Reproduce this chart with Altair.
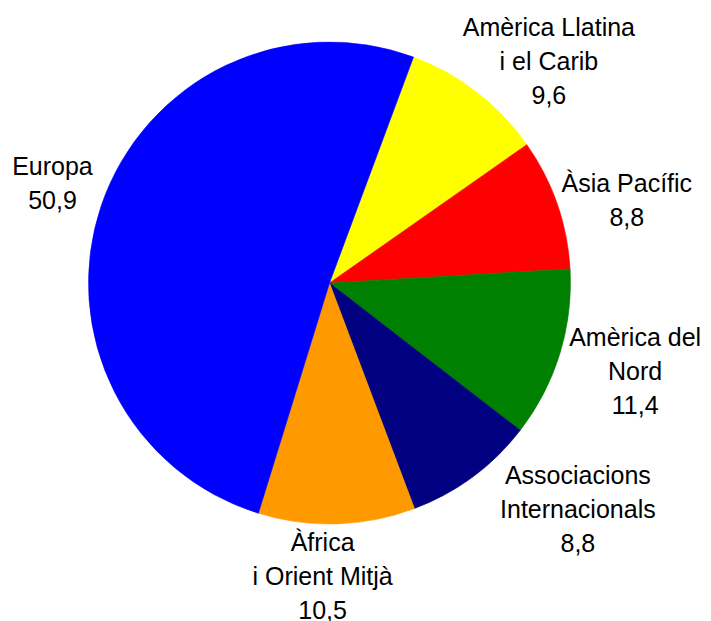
import math
import altair as alt
import pandas as pd

# ---- data (clockwise from the first slice) ----
names = [
    "Amèrica Llatina\ni el Carib",
    "Àsia Pacífic",
    "Amèrica del\nNord",
    "Associacions\nInternacionals",
    "Àfrica\ni Orient Mitjà",
    "Europa",
]
values = [9.6, 8.8, 11.4, 8.8, 10.5, 50.9]

# ---- styles ----
colors = ["#FFFF00", "#FF0000", "#008000", "#000080", "#FF9900", "#0000FF"]
label_offsets = [(36, 16), (14, 17), (19, 0), (70, -14), (-16, -6), (7, -2)]
start_angle = math.radians(20.4)
cx, cy = 321.5, 275
pie_radius = 241
label_radius = 300
line_height = 34

df = pd.DataFrame({
    "idx": list(range(len(names))),
    "name": names,
    "value": values,
})
df["label"] = [n + "\n" + f"{v:.1f}".replace(".", ",") for n, v in zip(names, values)]

theta_scale = alt.Scale(domain=[0, 100], range=[start_angle, start_angle + 2 * math.pi])

base = alt.Chart(df)

arcs = base.mark_arc(radius=pie_radius, strokeWidth=0.6).encode(
    theta=alt.Theta("value:Q", stack=True, scale=theta_scale),
    color=alt.Color("name:N", scale=alt.Scale(domain=names, range=colors), legend=None),
    stroke=alt.Stroke("name:N", scale=alt.Scale(domain=names, range=colors), legend=None),
    order=alt.Order("idx:Q"),
    x=alt.value(cx),
    y=alt.value(cy),
)

layers = [arcs]
for i, (ddx, ddy) in enumerate(label_offsets):
    n_lines = df["label"][i].count("\n") + 1
    t = (
        base.transform_window(cum="sum(value)", sort=[alt.SortField("idx")])
        .transform_calculate(mid="datum.cum - datum.value / 2")
        .transform_filter(alt.datum.idx == i)
        .mark_text(
            radius=label_radius,
            dx=ddx,
            dy=ddy - (n_lines - 1) * line_height / 2,
            align="center",
            baseline="middle",
            lineBreak="\n",
            lineHeight=line_height,
            fontSize=25,
            font="Liberation Sans",
            color="#000000",
        )
        .encode(
            theta=alt.Theta("mid:Q", scale=theta_scale),
            text="label:N",
            x=alt.value(cx),
            y=alt.value(cy),
        )
    )
    layers.append(t)

chart = alt.layer(*layers).properties(
    width=695,
    height=613,
    padding=0,
    autosize=alt.AutoSizeParams(type="none"),
).configure_view(stroke=None)

chart.save("out.html", embed_options={"renderer": "svg", "actions": False})
